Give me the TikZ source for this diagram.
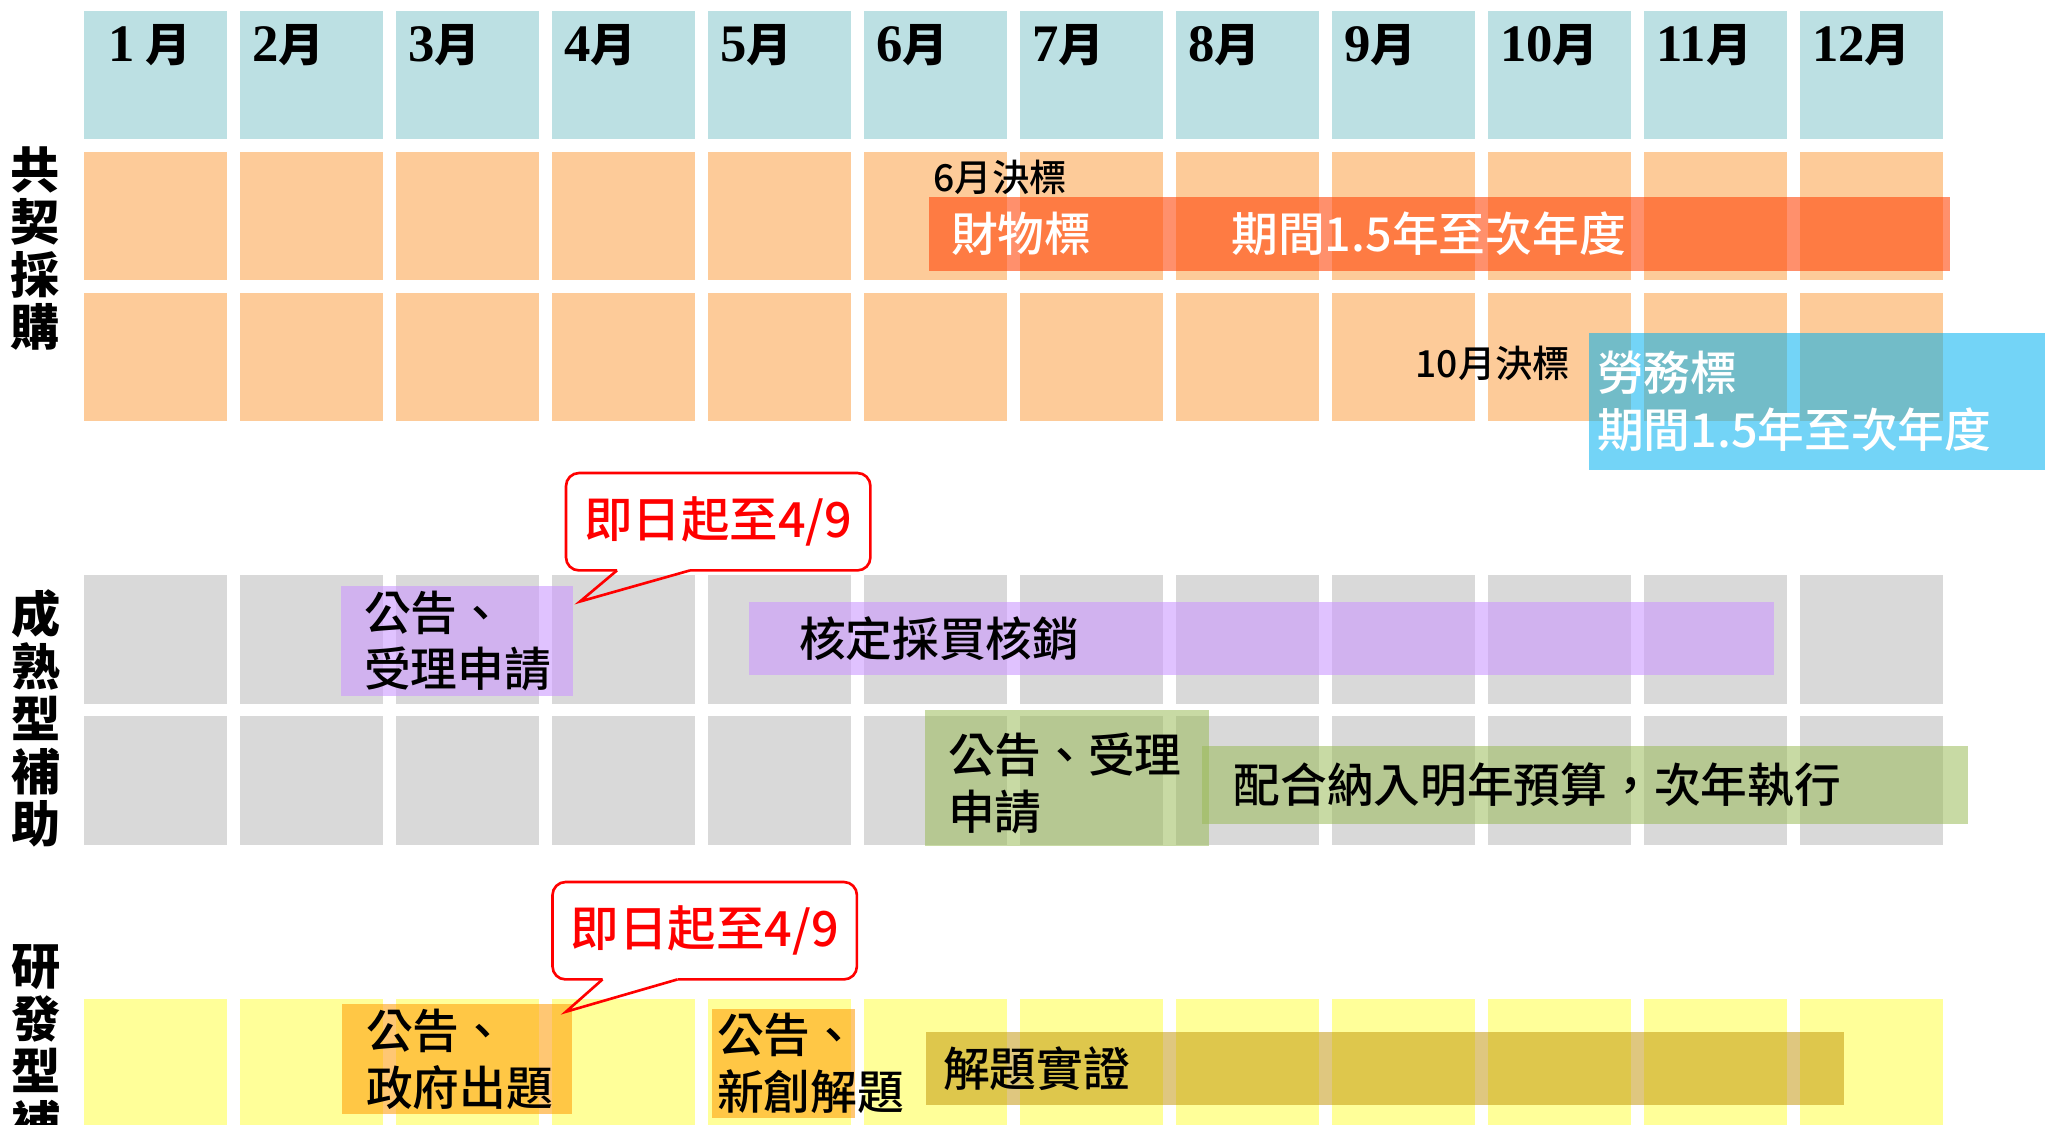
\documentclass[tikz,border=0pt]{standalone}
\usepackage{fontspec}
\setmainfont{Liberation Serif}
\newfontfamily\cjk{Noto Sans CJK TC}
\newfontfamily\cjkm{Noto Sans CJK TC Medium}
\usepackage{tikz}
\usetikzlibrary{positioning,calc}

\definecolor{headblue}{RGB}{188,224,227}
\definecolor{cellorange}{RGB}{253,203,153}
\definecolor{cellgray}{RGB}{217,217,217}
\definecolor{cellyellow}{RGB}{255,255,153}
\definecolor{goodsred}{RGB}{255,70,10}
\definecolor{laborblue}{RGB}{0,176,240}
\definecolor{barpurple}{RGB}{204,153,255}
\definecolor{bargreen}{RGB}{155,187,89}
\definecolor{barorange}{RGB}{255,153,0}
\definecolor{bargold}{RGB}{191,144,0}

\newcommand{\bodyfont}{\cjkm\fontsize{13.3}{16.2}\selectfont}
\newcommand{\notefont}{\cjkm\fontsize{10.6}{12}\selectfont}
\newcommand{\sidefont}{\cjk\bfseries\fontsize{14}{14.9}\selectfont}
\newcommand{\callfont}{\cjkm\fontsize{13.8}{16}\selectfont}
\newcommand{\monthlabel}[1]{{\fontsize{15}{16}\selectfont\bfseries #1}{\cjk\bfseries\fontsize{13}{16}\selectfont 月}}

\begin{document}
\begin{tikzpicture}[
	x=0.1mm, y=-0.1mm,
	cell/.style={anchor=north west, minimum width=14.35mm, minimum height=12.85mm, inner sep=0pt, outer sep=0pt},
	month/.style={anchor=base west, inner sep=0pt},
	side/.style={align=center, inner sep=0pt, font=\sidefont},
	bar/.style={anchor=north west, inner ysep=0pt, outer sep=0pt, align=left, font=\bodyfont, text opacity=1},
	note/.style={anchor=base west, inner sep=0pt, font=\notefont},
	callbox/.style={anchor=north west, minimum width=30.3mm, minimum height=9.6mm, inner sep=0pt, text=red, font=\callfont},
	callline/.style={draw=red, line width=0.75pt}
	]
	\useasboundingbox (0,0) rectangle (2045,1124);
	\clip (0,0) rectangle (2045,1124);

	% month grid
	\foreach \m in {1,...,12}{
		\node[cell, fill=headblue] (hd-\m) at ({83.5+(\m-1)*156},10.5) {};
		\node[cell, fill=cellorange] (buy1-\m) at ({83.5+(\m-1)*156},151.5) {};
		\node[cell, fill=cellorange] (buy2-\m) at ({83.5+(\m-1)*156},292.5) {};
		\node[cell, fill=cellgray] (mat1-\m) at ({83.5+(\m-1)*156},575) {};
		\node[cell, fill=cellgray] (mat2-\m) at ({83.5+(\m-1)*156},716) {};
		\node[cell, fill=cellyellow] (rnd-\m) at ({83.5+(\m-1)*156},998.5) {};
	}
	\foreach \m/\d in {1/{\hspace{1.2mm}1\hspace{1.1mm}},2/2,3/3,4/4,5/5,6/6,7/7,8/8,9/9,10/10,11/11,12/12}
		\node[month] (mon-\m) at ([xshift=1.2mm,yshift=-5.1mm]hd-\m.north west) {\monthlabel{\d}};

	% row titles
	\node[side] (buy) at (35,248.5) {共\\契\\採\\購};
	\node[side] (mature) at (36,718.5) {成\\熟\\型\\補\\助};
	\node[side] (rnd) at (36,1072) {研\\發\\型\\補\\助};

	% joint procurement
	\node[note] (goods-date) at (933,191) {6月決標};
	\node[bar, fill=goodsred, fill opacity=.6, text=white, minimum height=7.4mm, inner xsep=2.2mm, text width=97.7mm] (goods) at (929,197) {財物標　　　期間1.5年至次年度};
	\node[note] (labor-date) at (1415,377) {10月決標};
	\node[bar, fill=laborblue, fill opacity=.55, text=white, minimum height=13.7mm, inner xsep=0.8mm, text width=44.5mm] (labor) at (1589,333) {勞務標\\期間1.5年至次年度};

	% mature subsidy
	\node[bar, fill=barpurple, fill opacity=.6, minimum height=11mm, inner xsep=2.3mm, text width=18.6mm] (mat-notice) at (341,586) {公告、\\受理申請};
	\node[bar, fill=barpurple, fill opacity=.6, minimum height=7.3mm, inner xsep=5mm, text width=92.5mm] (mat-check) at (749,602) {核定採買核銷};
	\node[bar, fill=bargreen, fill opacity=.55, minimum height=13.6mm, inner xsep=2.3mm, text width=23.8mm] (mat-apply) at (925,710) {\rule{0pt}{5mm}公告、受理\\申請};
	\node[bar, fill=bargreen, fill opacity=.55, minimum height=7.8mm, inner xsep=3.15mm, text width=70.3mm] (mat-budget) at (1202,746) {配合納入明年預算，次年執行};

	% R&D subsidy
	\node[bar, fill=barorange, fill opacity=.55, minimum height=11mm, inner xsep=2.4mm, text width=18.2mm] (rnd-gov) at (342,1004) {公告、\\政府出題};
	\node[bar, fill=barorange, fill opacity=.55, minimum height=10.9mm, inner xsep=0.5mm, text width=13.3mm] (rnd-new) at (712,1009) {公告、\\新創解題};
	\node[bar, fill=bargold, fill opacity=.5, minimum height=7.3mm, inner xsep=1.7mm, text width=88.4mm] (rnd-proof) at (926,1032) {解題實證};

	% deadline callouts
	\node[callbox] (callA) at (566,473) {即日起至4/9};
	\coordinate (tipA) at (580,601.5);
	\draw[callline, rounded corners=1.3mm] ([xshift=12.4mm]callA.south west) -- (callA.south east) -- (callA.north east) -- (callA.north west) -- (callA.south west) -- ([xshift=5.1mm]callA.south west);
	\draw[callline] ([xshift=5.1mm]callA.south west) -- (tipA) -- ([xshift=12.4mm]callA.south west);

	\node[callbox] (callB) at (552.5,882) {即日起至4/9};
	\coordinate (tipB) at (566,1011.7);
	\draw[callline, rounded corners=1.3mm] ([xshift=12.5mm]callB.south west) -- (callB.south east) -- (callB.north east) -- (callB.north west) -- (callB.south west) -- ([xshift=5mm]callB.south west);
	\draw[callline] ([xshift=5mm]callB.south west) -- (tipB) -- ([xshift=12.5mm]callB.south west);
\end{tikzpicture}
\end{document}
